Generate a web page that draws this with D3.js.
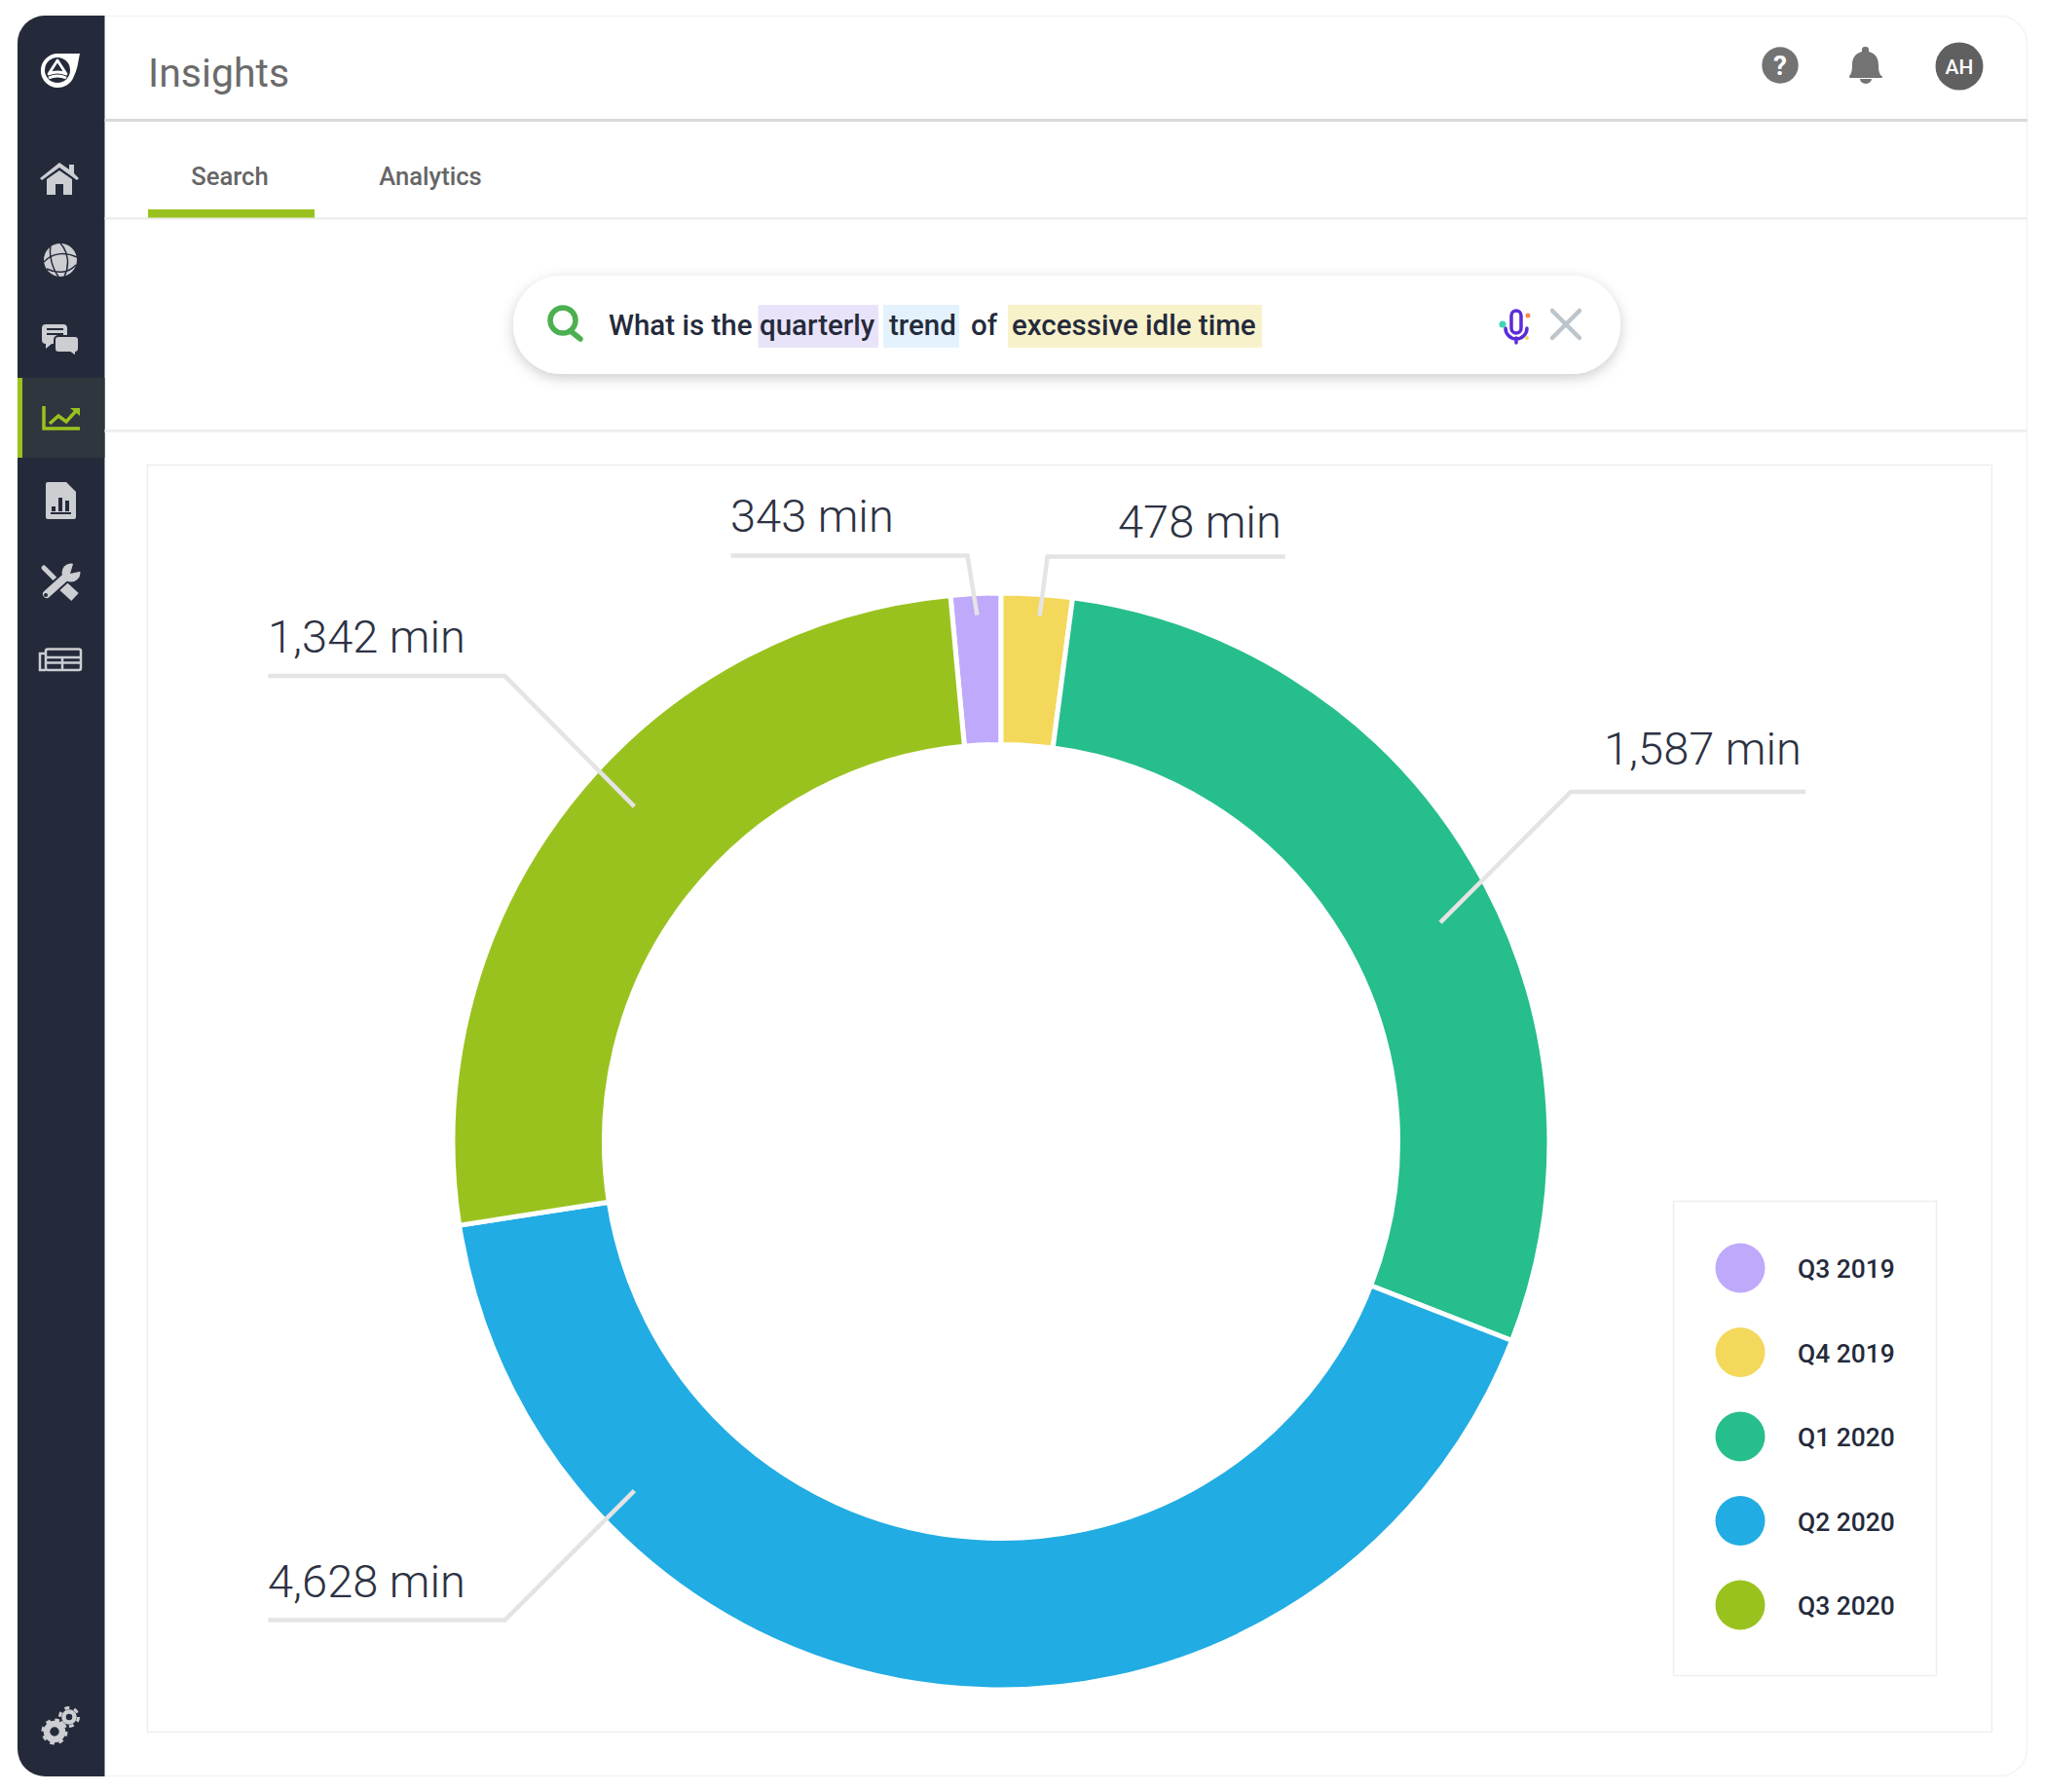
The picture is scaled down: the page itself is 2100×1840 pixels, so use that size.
<!DOCTYPE html>
<html>
<head>
<meta charset="utf-8">
<title>Insights</title>
<script src="https://cdnjs.cloudflare.com/ajax/libs/d3/7.8.5/d3.min.js"></script>
<style>
html,body{margin:0;padding:0;background:#fff;}
svg{display:block;}
text{font-family:Roboto,sans-serif;}
</style>
</head>
<body>
<svg id="page" width="2100" height="1840" viewBox="0 0 2100 1840"></svg>
<script>
// data
const quarters = ['Q3 2019','Q4 2019','Q1 2020','Q2 2020','Q3 2020'];
const minutes = [343,478,1587,4628,1342];
// the ring is not drawn in proportion to the labels, so the slice sizes (degrees) are read separately
const sliceDegrees = [5.3,7.5,103.8,149.9,93.5];
const colors = ['#BFA9FA','#F3D85B','#26BE8C','#21ACE3','#9AC21F'];

// annotation layout, same order as quarters
const tipAngle = [-2.6,4.2,63.5,226.4,312.4];
const tipRadius = [541,541,504,520,510];
const elbowOffset = [[-10,-61],[8,-61],[134,-134],[-133,133],[-133,-134]];
const runLength = [-243,244,241,-243,-243];
const labelPos = [[750,546],[1148,552],[1647,785],[275,1640],[275,670]];

const cx = 1028, cy = 1172, outerR = 563, innerR = 407.5;

const svg = d3.select('#page');

// frame
svg.append('rect').attr('x',18.5).attr('y',16.5).attr('width',2063).attr('height',1807).attr('rx',28)
    .attr('fill','#fff').attr('stroke','#f3f3f3').attr('stroke-width',1.5);
svg.append('path').attr('d','M46,16H107.5V1824H46A28,28 0 0 1 18,1796V44A28,28 0 0 1 46,16Z').attr('fill','#252A3B');
svg.append('rect').attr('x',18).attr('y',388).attr('width',89.5).attr('height',82).attr('fill','#30363D');
svg.append('rect').attr('x',18).attr('y',388).attr('width',5).attr('height',82).attr('fill','#9AC21F');

// header
svg.append('text').attr('x',152).attr('y',88.5).attr('font-size',41).attr('fill','#6b6b6b').text('Insights');
svg.append('rect').attr('x',107.5).attr('y',122).attr('width',1974.5).attr('height',3).attr('fill','#d9d9d9');
svg.append('rect').attr('x',107.5).attr('y',223).attr('width',1974.5).attr('height',2.5).attr('fill','#eeeeee');
svg.append('rect').attr('x',107.5).attr('y',441).attr('width',1974.5).attr('height',3).attr('fill','#efefef');

// tabs
svg.append('text').attr('x',236).attr('y',190).attr('text-anchor','middle').attr('font-size',25.6).attr('font-weight',500).attr('fill','#666').text('Search');
svg.append('text').attr('x',442).attr('y',190).attr('text-anchor','middle').attr('font-size',25.6).attr('font-weight',500).attr('fill','#666').text('Analytics');
svg.append('rect').attr('x',152).attr('y',215).attr('width',171).attr('height',8.5).attr('fill','#9AC21F');

// top right icons
svg.append('circle').attr('cx',1828).attr('cy',67).attr('r',18.7).attr('fill','#737373');
svg.append('text').attr('x',1828).attr('y',77).attr('text-anchor','middle').attr('font-size',28).attr('font-weight',700).attr('fill','#fff').text('?');
svg.append('path').attr('d','M1916,48a3,3 0 0 1 3,3v2c8,2 10,8 10,14c0,6 1,9 3,11h1a1.5,1.5 0 0 1 0,0v0.5a1.5,1.5 0 0 1 -1,1.5h-32a1.5,1.5 0 0 1 -1,-1.5v-0.5c2,-2 3,-5 3,-11c0,-6 2,-12 10,-14v-2a3,3 0 0 1 3,-3ZM1910,81h12a6,5 0 0 1 -12,0Z').attr('fill','#737373');
svg.append('circle').attr('cx',2012).attr('cy',68).attr('r',24.5).attr('fill','#606060');
svg.append('text').attr('x',2012).attr('y',76).attr('text-anchor','middle').attr('font-size',21).attr('font-weight',500).attr('fill','#fff').text('AH');

// search bar
const defs = svg.append('defs');
const shadow = defs.append('filter').attr('id','pillShadow').attr('x','-5%').attr('y','-40%').attr('width','110%').attr('height','190%');
shadow.append('feDropShadow').attr('dx',0).attr('dy',4).attr('stdDeviation',7).attr('flood-color','#000').attr('flood-opacity',0.2);
svg.append('rect').attr('x',527).attr('y',283).attr('width',1137).attr('height',101).attr('rx',50)
    .attr('fill','#fff').attr('filter','url(#pillShadow)');

const highlights = [[778.5,123.5,'#E9E3FA'],[907,78,'#E3F2FD'],[1035,261,'#F8F2CB']];
svg.selectAll('rect.hl').data(highlights).join('rect').attr('class','hl')
    .attr('x',d=>d[0]).attr('y',313).attr('width',d=>d[1]).attr('height',44).attr('fill',d=>d[2]);
const searchWords = [['What is the',625],['quarterly',780],['trend',913],['of',997],['excessive idle time',1039]];
svg.selectAll('text.q').data(searchWords).join('text').attr('class','q')
    .attr('x',d=>d[1]).attr('y',344).attr('font-size',29.5).attr('font-weight',500).attr('fill','#252A3B').text(d=>d[0]);

// search icon, mic, close
svg.append('circle').attr('cx',578).attr('cy',329).attr('r',13).attr('fill','none').attr('stroke','#4CAF50').attr('stroke-width',5.5);
svg.append('line').attr('x1',586).attr('y1',340).attr('x2',596).attr('y2',348).attr('stroke','#4CAF50').attr('stroke-width',5.5).attr('stroke-linecap','round');
svg.append('rect').attr('x',1552).attr('y',319).attr('width',10).attr('height',23).attr('rx',5).attr('fill','none').attr('stroke','#5B2BD9').attr('stroke-width',3.5);
svg.append('path').attr('d','M1546,337a11,11 0 0 0 22,0M1557,347v5').attr('fill','none').attr('stroke','#5B2BD9').attr('stroke-width',3.5).attr('stroke-linecap','round');
svg.append('circle').attr('cx',1543).attr('cy',333).attr('r',3.5).attr('fill','#3DD6B5');
svg.append('circle').attr('cx',1569).attr('cy',324).attr('r',2.5).attr('fill','#F28B50');
svg.append('circle').attr('cx',1568).attr('cy',347).attr('r',2).attr('fill','#F3D85B');
svg.append('path').attr('d','M1594,319L1622,347M1622,319L1594,347').attr('stroke','#BCC5CB').attr('stroke-width',4.5).attr('stroke-linecap','round').attr('fill','none');

// chart panel
svg.append('rect').attr('x',151.5).attr('y',477.5).attr('width',1894).attr('height',1301).attr('fill','#fff').attr('stroke','#eeeeee').attr('stroke-width',1.5);

// donut
const rad = d => d * Math.PI / 180;
const color = d3.scaleOrdinal().domain(quarters).range(colors);
const rows = quarters.map((q,i)=>({quarter:q,minutes:minutes[i],deg:sliceDegrees[i]}));
const pie = d3.pie().value(d=>d.deg).sort(null).startAngle(rad(-5.3)).endAngle(rad(354.7));
const arc = d3.arc().innerRadius(innerR).outerRadius(outerR);

const chart = svg.append('g').attr('transform',`translate(${cx},${cy})`);
chart.selectAll('path.slice').data(pie(rows)).join('path').attr('class','slice')
    .attr('d',arc).attr('fill',d=>color(d.data.quarter))
    .attr('stroke','#fff').attr('stroke-width',5);

// leader lines
const line = d3.line();
chart.selectAll('path.leader').data(rows).join('path').attr('class','leader')
    .attr('d',(d,i)=>{
        const tip = d3.pointRadial(rad(tipAngle[i]),tipRadius[i]);
        const elbow = [tip[0]+elbowOffset[i][0],tip[1]+elbowOffset[i][1]];
        return line([tip,elbow,[elbow[0]+runLength[i],elbow[1]]]);
    })
    .attr('fill','none').attr('stroke','#E4E4E4').attr('stroke-width',4.5);

const fmt = d3.format(',');
svg.selectAll('text.value').data(rows).join('text').attr('class','value')
    .attr('x',(d,i)=>labelPos[i][0]).attr('y',(d,i)=>labelPos[i][1])
    .attr('font-size',47).attr('font-weight',300).attr('fill','#2D3243')
    .text(d=>fmt(d.minutes)+' min');

// legend
svg.append('rect').attr('x',1718.5).attr('y',1233.5).attr('width',270).attr('height',487).attr('fill','#fff').attr('stroke','#eeeeee').attr('stroke-width',1.5);
const legendY = d3.scalePoint().domain(quarters).range([1302,1648]);
const legend = svg.selectAll('g.item').data(quarters).join('g').attr('class','item')
    .attr('transform',d=>`translate(0,${legendY(d)})`);
legend.append('circle').attr('cx',1787).attr('r',25.5).attr('fill',d=>color(d));
legend.append('text').attr('x',1846).attr('y',10).attr('font-size',26.4).attr('font-weight',500).attr('fill','#252A3B').text(d=>d);

// sidebar icons
const iconFill = '#CCCED2';
const dark = '#252A3B';
// logo
svg.append('path').attr('d','M82,55C80,64 80,70 76,78A17.5,17.5 0 1 1 59,55Z').attr('fill','#fff');
svg.append('circle').attr('cx',59).attr('cy',72).attr('r',13).attr('fill',dark);
svg.append('path').attr('d','M59,62L68,76Q59,72 50,76Z').attr('fill',dark).attr('stroke','#fff').attr('stroke-width',2.8).attr('stroke-linejoin','round');
svg.append('path').attr('d','M50,80Q59,76 68,80').attr('fill','none').attr('stroke','#fff').attr('stroke-width',2.8);
// home
svg.append('path').attr('d','M61,167L71,174V169H76V178L81,183L79,185L61,172L43,185L41,183ZM48,184L61,175L74,184V200H65V189H57V200H48Z').attr('fill',iconFill);
// globe
svg.append('circle').attr('cx',62).attr('cy',267).attr('r',17).attr('fill',iconFill);
svg.append('path').attr('d','M45,269C53,260 66,258 79,264M48,276C58,281 70,281 78,272M62,250C70,258 72,272 66,284M52,253C50,262 54,276 60,284').attr('fill','none').attr('stroke',dark).attr('stroke-width',1.5);
// chat
svg.append('path').attr('d','M47,333H65a4,4 0 0 1 4,4V349a4,4 0 0 1 -4,4H53L47,358V353a4,4 0 0 1 -4,-4V337a4,4 0 0 1 4,-4Z').attr('fill',iconFill);
svg.append('path').attr('d','M48,338H65M48,343H65').attr('stroke',dark).attr('stroke-width',2.2);
svg.append('path').attr('d','M60,345H77a4,4 0 0 1 4,4V358a4,4 0 0 1 -3,4V366L72,362H60a4,4 0 0 1 -4,-4V349a4,4 0 0 1 4,-4Z').attr('fill',iconFill).attr('stroke',dark).attr('stroke-width',2);
// trend
svg.append('path').attr('d','M45,417V440H82').attr('fill','none').attr('stroke','#9AC21F').attr('stroke-width',3.5);
svg.append('path').attr('d','M51,435L60,427L68,433L78,422').attr('fill','none').attr('stroke','#9AC21F').attr('stroke-width',3.5);
svg.append('path').attr('d','M72,419H82V427Z').attr('fill','#9AC21F');
// report
svg.append('path').attr('d','M49,495H68L78,505V531a2,2 0 0 1 -2,2H49a2,2 0 0 1 -2,-2V497a2,2 0 0 1 2,-2Z').attr('fill',iconFill);
svg.append('path').attr('d','M53,525V520H57V525ZM60,525V511H64V525ZM67,525V514H71V525ZM52,526H73V528H52Z').attr('fill',dark);
// tools
const tools = svg.append('g').attr('transform','translate(0,2)');
tools.append('path').attr('d','M45,581L58,594').attr('stroke',iconFill).attr('stroke-width',5).attr('stroke-linecap','round');
tools.append('path').attr('d','M65,600L77,611').attr('stroke',iconFill).attr('stroke-width',11);
tools.append('path').attr('d','M48,608L68,590').attr('stroke',dark).attr('stroke-width',12);
tools.append('path').attr('d','M48,608L68,590').attr('stroke',iconFill).attr('stroke-width',8).attr('stroke-linecap','round');
tools.append('circle').attr('cx',73).attr('cy',586).attr('r',9.5).attr('fill',iconFill);
tools.append('path').attr('d','M72,587L76,574L86,584Z').attr('fill',dark);
tools.append('circle').attr('cx',47).attr('cy',609).attr('r',2).attr('fill',dark);
// table
svg.append('rect').attr('x',47).attr('y',666.5).attr('width',36).attr('height',21.5).attr('rx',2).attr('fill','none').attr('stroke',iconFill).attr('stroke-width',2.5);
svg.append('path').attr('d','M47,671H41V688H47M47,675H82M47,680.5H82M64,675V688').attr('fill','none').attr('stroke',iconFill).attr('stroke-width',2.5);
// gears
[[56,1778,9,6.5,8],[71,1763,6.5,4.5,6]].forEach(g=>{
    svg.append('circle').attr('cx',g[0]).attr('cy',g[1]).attr('r',g[2]+3)
        .attr('fill','none').attr('stroke',iconFill).attr('stroke-width',3)
        .attr('stroke-dasharray',2*Math.PI*(g[2]+3)/(g[4]*2));
    svg.append('circle').attr('cx',g[0]).attr('cy',g[1]).attr('r',g[2]-1)
        .attr('fill','none').attr('stroke',iconFill).attr('stroke-width',g[3]);
});
</script>
</body>
</html>
